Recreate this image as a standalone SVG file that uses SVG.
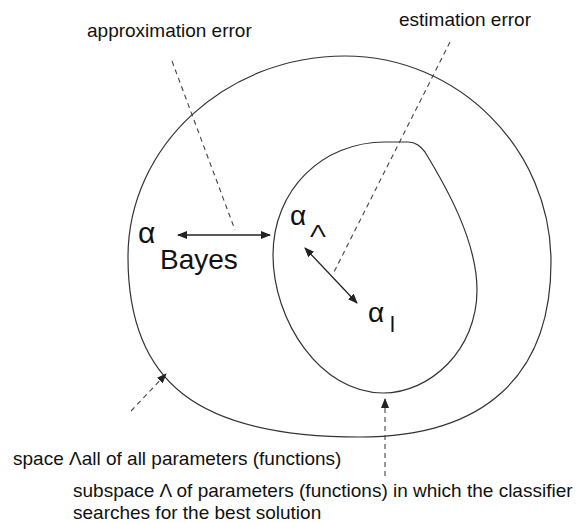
<svg xmlns="http://www.w3.org/2000/svg" width="585" height="523" viewBox="0 0 585 523">
<style>
.curve{fill:none;stroke:#333;stroke-width:1.2}
.dash{fill:none;stroke:#444;stroke-width:1.1;stroke-dasharray:5,4}
.arr{fill:none;stroke:#222;stroke-width:1.3}
.lbl{font-family:"Liberation Sans",Arial,sans-serif;font-size:19px;fill:#111}
.sym{font-family:"Liberation Sans",Arial,sans-serif;fill:#111}
</style>
<defs>
<marker id="ah" viewBox="0 0 10 8" refX="9" refY="4" markerWidth="10" markerHeight="8" markerUnits="userSpaceOnUse" orient="auto-start-reverse">
<path d="M0,0 L10,4 L0,8 z" fill="#222"/>
</marker>
</defs>
<rect width="585" height="523" fill="#fff"/>
<g id="space-all">
<path class="curve" d="M345,56 C458,56 551,149 551,262 C551,376 484,437 360,437 C198,437 128,383 128,257 C128,146 226,56 345,56 Z"/>
</g>
<g id="subspace">
<path class="curve" d="M273,255 C273,190 322,142 385,142 L408,142 C416,142 420,146 425,152 C445,185 477,240 477,290 C477,350 430,393 383,393 C320,393 273,320 273,255 Z"/>
</g>
<g id="alpha-bayes">
<text class="sym" x="138" y="243" font-size="30">α</text>
<text class="sym" x="160" y="269" font-size="28">Bayes</text>
</g>
<g id="alpha-lambda">
<text class="sym" x="290" y="225" font-size="28">α</text>
<text class="sym" x="310" y="237" font-size="17" transform="translate(310,0) scale(1.4,1) translate(-310,0)">Λ</text>
</g>
<g id="alpha-l">
<text class="sym" x="368" y="322" font-size="28">α</text>
<text class="sym" x="390" y="332" font-size="22">l</text>
</g>
<g id="labels">
<text class="lbl" x="87" y="37">approximation error</text>
<text class="lbl" x="399" y="26">estimation error</text>
<text class="lbl" x="13" y="465">space Λall of all parameters (functions)</text>
<text class="lbl" x="73" y="497">subspace Λ of parameters (functions) in which the classifier</text>
<text class="lbl" x="73" y="519">searches for the best solution</text>
</g>
<g id="connectors">
<line class="dash" x1="172" y1="61" x2="235" y2="230"/>
<line class="dash" x1="450" y1="42" x2="334" y2="272"/>
<line class="arr" x1="178" y1="235" x2="270" y2="235" marker-start="url(#ah)" marker-end="url(#ah)"/>
<line class="arr" x1="305" y1="248" x2="357" y2="303" marker-start="url(#ah)" marker-end="url(#ah)"/>
<line class="dash" x1="131" y1="411" x2="166" y2="374" marker-end="url(#ah)"/>
<line class="dash" x1="385" y1="476" x2="385" y2="399" marker-end="url(#ah)"/>
</g>
</svg>
